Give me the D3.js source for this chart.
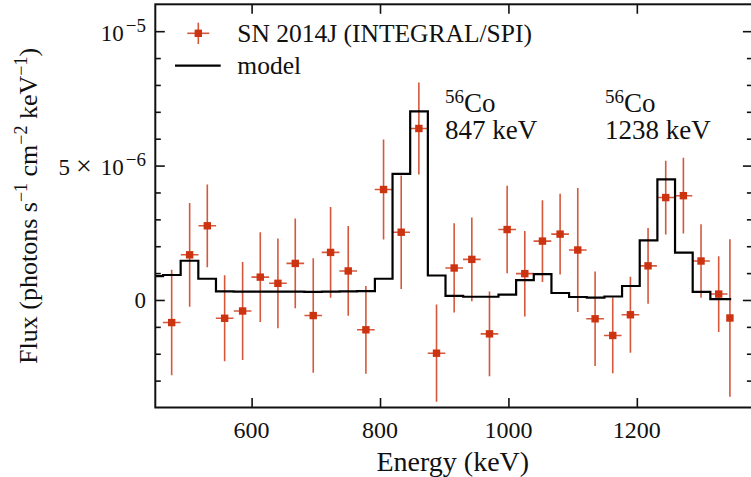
<!DOCTYPE html>
<html><head><meta charset="utf-8">
<script src="https://cdn.jsdelivr.net/npm/d3@7"></script>
<style>
body{margin:0;background:#fff}
svg{display:block}
text{font-family:"Liberation Serif","Times New Roman",serif;fill:#111}
</style>
</head><body>
<svg id="chart" width="751" height="477"></svg>
<script>
// ---- data (flux in units of 1e-6 photons s^-1 cm^-2 keV^-1) ----
const energy = [475.5, 503.5, 531, 558, 586, 613.5, 641, 668, 696, 723, 750.5, 778, 805.5, 833, 860.5, 888, 915.5, 943, 970.5, 998, 1025.5, 1053, 1080.5, 1108, 1135, 1162.5, 1190, 1217.5, 1245, 1272.5, 1300, 1327.5, 1345];
const energyErr = [13.75, 13.75, 13.75, 13.75, 13.75, 13.75, 13.75, 13.75, 13.75, 13.75, 13.75, 13.75, 13.75, 13.75, 13.75, 13.75, 13.75, 13.75, 13.75, 13.75, 13.75, 13.75, 13.75, 13.75, 13.75, 13.75, 13.75, 13.75, 13.75, 13.75, 13.75, 13.75, 3];
const flux = [-0.84, 1.68, 2.76, -0.68, -0.41, 0.85, 0.62, 1.36, -0.58, 1.77, 1.08, -1.11, 4.11, 2.52, 6.38, -1.98, 1.19, 1.51, -1.26, 2.62, 0.98, 2.19, 2.45, 1.86, -0.70, -1.32, -0.55, 1.27, 3.81, 3.88, 1.45, 0.22, -0.67];
const fluxErr = [1.96, 1.93, 1.54, 1.60, 1.82, 1.67, 1.67, 1.67, 2.13, 1.69, 1.67, 1.63, 1.86, 2.11, 1.71, 1.81, 1.66, 1.56, 1.58, 1.63, 1.59, 1.52, 1.50, 2.31, 1.76, 1.41, 1.41, 1.41, 1.37, 1.41, 1.37, 1.41, 2.93];

const modelEdges = [450, 462, 489.5, 517, 544.5, 572, 599.5, 627, 654.5, 682, 709.5, 737, 764.5, 792, 819.5, 847, 874.5, 902, 929.5, 957, 984.5, 1012, 1039.5, 1067, 1094.5, 1122, 1149.5, 1177, 1204.5, 1232, 1259.5, 1287, 1314.5, 1347];
const modelFlux = [0.89, 0.93, 1.46, 0.79, 0.32, 0.31, 0.31, 0.31, 0.31, 0.30, 0.31, 0.32, 0.33, 0.79, 4.69, 7.02, 0.91, 0.15, 0.12, 0.12, 0.20, 0.74, 0.96, 0.26, 0.11, 0.09, 0.13, 0.52, 2.22, 4.49, 1.76, 0.30, 0.03];

const xTicks = [600, 800, 1000, 1200];
const xTickLabels = ["600", "800", "1000", "1200"];
const yMajorTicks = [0, 5, 10];
const yTickLabels = [{mant:"", base:"0", sup:""}, {mant:"5", base:"10", sup:"\u22126"}, {mant:"", base:"10", sup:"\u22125"}];
const yMinorTicks = [-3, -2, -1, 1, 2, 3, 4, 6, 7, 8, 9];

const seriesName = "SN 2014J (INTEGRAL/SPI)";
const modelName = "model";
const annotations = [
  {iso:"56", el:"Co", line:"847 keV", x:445},
  {iso:"56", el:"Co", line:"1238 keV", x:605}
];

// ---- layout ----
const m = {left:155.3, right:752.4, top:4.3, bottom:407.5};
const dataColor = "#cc3311";
const x = d3.scaleLinear().domain([450, 1380]).range([m.left, m.right]);
const y = d3.scaleLinear().domain([-4, 11]).range([m.bottom, m.top]);
const svg = d3.select("#chart");

svg.append("defs").append("clipPath").attr("id","clip")
  .append("rect").attr("x",m.left).attr("y",m.top).attr("width",m.right-m.left).attr("height",m.bottom-m.top);

// data error bars and markers
const pts = energy.map((e,i)=>({e, de:energyErr[i], f:flux[i], df:fluxErr[i]}));
const gD = svg.append("g").attr("clip-path","url(#clip)");
gD.selectAll("line.v").data(pts).join("line").attr("class","v")
  .attr("x1",d=>x(d.e)).attr("x2",d=>x(d.e))
  .attr("y1",d=>y(d.f-d.df)).attr("y2",d=>y(d.f+d.df))
  .attr("stroke",dataColor).attr("stroke-opacity",0.82).attr("stroke-width",1.6);
gD.selectAll("line.h").data(pts).join("line").attr("class","h")
  .attr("x1",d=>x(d.e-d.de)).attr("x2",d=>x(d.e+d.de))
  .attr("y1",d=>y(d.f)).attr("y2",d=>y(d.f))
  .attr("stroke",dataColor).attr("stroke-opacity",0.82).attr("stroke-width",1.6);
gD.selectAll("rect.mk").data(pts).join("rect").attr("class","mk")
  .attr("x",d=>x(d.e)-3.7).attr("y",d=>y(d.f)-3.7).attr("width",7.4).attr("height",7.4)
  .attr("fill",dataColor);

// model step line
const modelPts = modelEdges.map((e,i)=>({e, v:modelFlux[Math.min(i, modelFlux.length-1)]}));
svg.append("path").attr("clip-path","url(#clip)")
  .attr("d", d3.line().x(d=>x(d.e)).y(d=>y(d.v)).curve(d3.curveStepAfter)(modelPts))
  .attr("fill","none").attr("stroke","#000").attr("stroke-width",2.2);

// axes (inward ticks on all sides)
function addAxis(gen, tx, ty, vals, size){
  svg.append("g").attr("transform",`translate(${tx},${ty})`)
    .call(gen.tickValues(vals).tickSize(size).tickSizeOuter(0).tickFormat(""))
    .call(g=>g.select(".domain").remove())
    .call(g=>g.selectAll(".tick line").attr("stroke","#111").attr("stroke-width",1.6));
}
addAxis(d3.axisBottom(x), 0, m.bottom, xTicks, -9.5);
addAxis(d3.axisTop(x), 0, m.top, xTicks, -9.5);
addAxis(d3.axisLeft(y), m.left, 0, yMajorTicks, -9.5);
addAxis(d3.axisLeft(y), m.left, 0, yMinorTicks, -5.5);
addAxis(d3.axisRight(y), m.right, 0, yMajorTicks, -9.5);
addAxis(d3.axisRight(y), m.right, 0, yMinorTicks, -5.5);
svg.append("rect").attr("x",m.left).attr("y",m.top).attr("width",m.right-m.left).attr("height",m.bottom-m.top)
  .attr("fill","none").attr("stroke","#111").attr("stroke-width",2);

// tick labels
svg.selectAll("text.xt").data(xTicks).join("text").attr("class","xt")
  .attr("x",d=>x(d)).attr("y",438).attr("text-anchor","middle").attr("font-size",24)
  .text((d,i)=>xTickLabels[i]);
yMajorTicks.forEach((v,i)=>{
  const lab = yTickLabels[i];
  const t = svg.append("text").attr("x",146).attr("y",y(v)+(lab.sup?9.5:8.5)).attr("text-anchor","end").attr("font-size",23);
  if(lab.mant){
    t.append("tspan").text(lab.mant);
    t.append("tspan").attr("dx",6).attr("font-size",28).text("\u00d7");
    t.append("tspan").attr("dx",9).text(lab.base);
  } else t.append("tspan").text(lab.base);
  if(lab.sup) t.append("tspan").attr("font-size",19).attr("dy",-9).attr("dx",2).text(lab.sup);
});

// axis labels
svg.append("text").attr("x",(m.left+m.right)/2 - 1).attr("y",471).attr("text-anchor","middle")
  .attr("font-size",28).text("Energy (keV)");
const yl = svg.append("text").attr("transform",`translate(37,${(m.top+m.bottom)/2}) rotate(-90)`)
  .attr("text-anchor","middle").attr("font-size",26);
yl.append("tspan").text("Flux (photons s");
yl.append("tspan").attr("font-size",18).attr("dy",-10).text("\u22121");
yl.append("tspan").attr("dy",10).text(" cm");
yl.append("tspan").attr("font-size",18).attr("dy",-10).text("\u22122");
yl.append("tspan").attr("dy",10).text(" keV");
yl.append("tspan").attr("font-size",18).attr("dy",-10).text("\u22121");
yl.append("tspan").attr("dy",10).text(")");

// legend
const lg = svg.append("g");
lg.append("line").attr("x1",187.3).attr("x2",209.3).attr("y1",33.3).attr("y2",33.3).attr("stroke",dataColor).attr("stroke-opacity",0.82).attr("stroke-width",1.6);
lg.append("line").attr("x1",198.3).attr("x2",198.3).attr("y1",22.7).attr("y2",44).attr("stroke",dataColor).attr("stroke-opacity",0.82).attr("stroke-width",1.6);
lg.append("rect").attr("x",198.3-3.7).attr("y",33.3-3.7).attr("width",7.4).attr("height",7.4).attr("fill",dataColor);
lg.append("line").attr("x1",175).attr("x2",220.7).attr("y1",65.7).attr("y2",65.7).attr("stroke","#000").attr("stroke-width",2.2);
lg.append("text").attr("x",237.3).attr("y",41.5).attr("font-size",25.5).text(seriesName);
lg.append("text").attr("x",237.3).attr("y",74).attr("font-size",25.5).text(modelName);

// annotations
annotations.forEach(a=>{
  const t = svg.append("text").attr("x",a.x).attr("y",111.7).attr("font-size",27);
  t.append("tspan").attr("font-size",19).attr("dy",-9).text(a.iso);
  t.append("tspan").attr("dy",9).text(a.el);
  svg.append("text").attr("x",a.x).attr("y",139.3).attr("font-size",27).text(a.line);
});
</script>
</body></html>
